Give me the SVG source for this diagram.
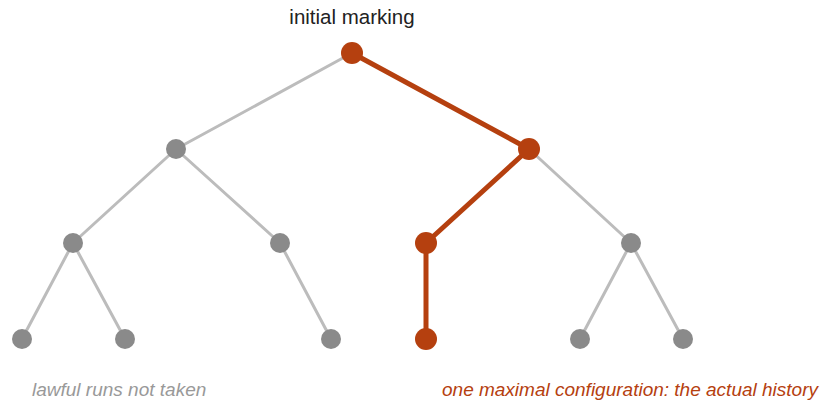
<svg xmlns="http://www.w3.org/2000/svg" width="822" height="402" viewBox="0 0 822 402">
  <style>
    .edge { stroke: #bcbcbc; stroke-width: 3; fill: none; stroke-linecap: round; }
    .path { stroke: #b5400f; stroke-width: 5; fill: none; stroke-linecap: round; }
    .node { fill: #8a8a8a; }
    .hist { fill: #b5400f; }
    .lbl { font-family: "Liberation Sans", Arial, sans-serif; }
  </style>
  <rect width="822" height="402" fill="#ffffff"/>
  <g id="connectors">
    <line class="edge" x1="352" y1="53" x2="176" y2="149"/>
    <line class="edge" x1="176" y1="149" x2="73" y2="243"/>
    <line class="edge" x1="176" y1="149" x2="280" y2="243"/>
    <line class="edge" x1="73" y1="243" x2="22" y2="339"/>
    <line class="edge" x1="73" y1="243" x2="125" y2="339"/>
    <line class="edge" x1="280" y1="243" x2="331" y2="339"/>
    <line class="edge" x1="529" y1="149" x2="631" y2="243"/>
    <line class="edge" x1="631" y1="243" x2="580" y2="339"/>
    <line class="edge" x1="631" y1="243" x2="683" y2="339"/>
    <line class="path" x1="352" y1="53" x2="529" y2="149"/>
    <line class="path" x1="529" y1="149" x2="426" y2="243"/>
    <line class="path" x1="426" y1="243" x2="426" y2="339"/>
  </g>
  <g id="n-root"><circle class="hist" cx="352" cy="53" r="11"/></g>
  <g id="n-l"><circle class="node" cx="176" cy="149" r="10"/></g>
  <g id="n-r"><circle class="hist" cx="529" cy="149" r="11"/></g>
  <g id="n-ll"><circle class="node" cx="73" cy="243" r="10"/></g>
  <g id="n-lr"><circle class="node" cx="280" cy="243" r="10"/></g>
  <g id="n-rl"><circle class="hist" cx="426" cy="243" r="11"/></g>
  <g id="n-rr"><circle class="node" cx="631" cy="243" r="10"/></g>
  <g id="n-lll"><circle class="node" cx="22" cy="339" r="10"/></g>
  <g id="n-llr"><circle class="node" cx="125" cy="339" r="10"/></g>
  <g id="n-lrr"><circle class="node" cx="331" cy="339" r="10"/></g>
  <g id="n-rll"><circle class="hist" cx="426" cy="339" r="11"/></g>
  <g id="n-rrl"><circle class="node" cx="580" cy="339" r="10"/></g>
  <g id="n-rrr"><circle class="node" cx="683" cy="339" r="10"/></g>
  <g id="labels">
    <text class="lbl" x="352" y="24" font-size="20.5" fill="#222222" text-anchor="middle">initial marking</text>
    <text class="lbl" x="32" y="396" font-size="19" font-style="italic" fill="#999999">lawful runs not taken</text>
    <text class="lbl" x="442" y="396" font-size="19" font-style="italic" fill="#b5400f">one maximal configuration: the actual history</text>
  </g>
</svg>
